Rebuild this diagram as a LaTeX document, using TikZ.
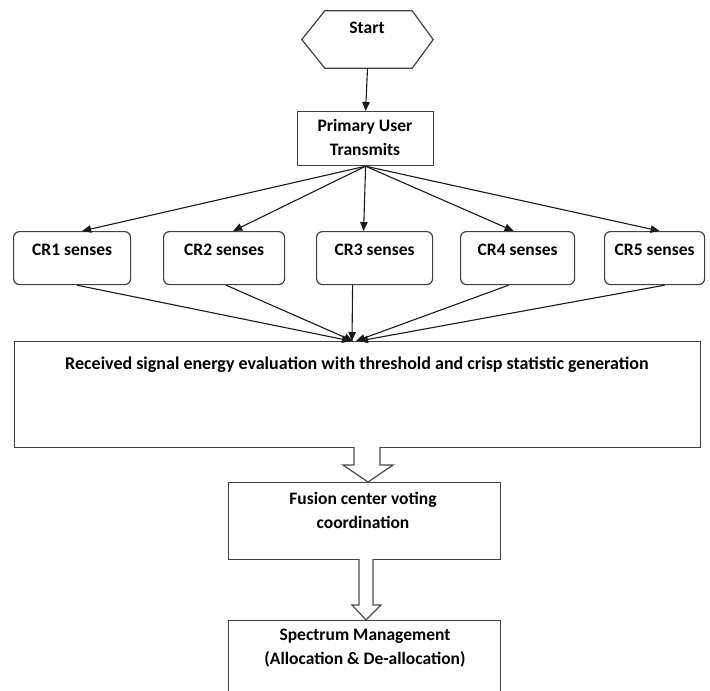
\documentclass[tikz,border=0pt]{standalone}
\usepackage{fontspec}
\setmainfont{Carlito}
\usetikzlibrary{calc,arrows.meta}
\begin{document}
\begin{tikzpicture}[x=1pt,y=-1pt,
  box/.style={draw=black!75, line width=1.2pt, inner sep=0pt, anchor=north west},
  crbox/.style={box, rounded corners=6pt, minimum height=53pt},
  lbl/.style={font=\bfseries\fontsize{17.5}{24}\selectfont, align=center, inner sep=0pt},
  arr/.style={draw=black!90, line width=1.1pt, -{Triangle[length=9pt,width=7.5pt]}},
  blk/.style={draw=black!70, line width=1.2pt, fill=white, line join=miter}]
\clip (0,0) rectangle (710,691);
\useasboundingbox (0,0) rectangle (710,691);
% Start hexagon
\node[inner sep=0pt, minimum width=131pt, minimum height=57pt] (start) at (367.5,39.5) {};
\draw[draw=black!75, line width=1.2pt] (start.west) -- ($(start.north west)+(23,0)$) -- ($(start.north east)+(-21,0)$) -- (start.east) -- ($(start.south east)+(-21,0)$) -- ($(start.south west)+(23,0)$) -- cycle;
\node[lbl] (starttext) at (367,28) {Start};
% Primary user
\node[box, minimum width=136pt, minimum height=54pt] (pu) at (297,111) {};
\node[lbl] (putext) at (365,137) {Primary User\\Transmits};
% CR boxes
\node[crbox, minimum width=117pt] (cr1) at (13,231) {};
\node[crbox, minimum width=121pt] (cr2) at (163,231) {};
\node[crbox, minimum width=116pt] (cr3) at (316,231) {};
\node[crbox, minimum width=114pt] (cr4) at (460,231) {};
\node[crbox, minimum width=100pt] (cr5) at (604,231) {};
\node[lbl] (t1) at (cr1.north) [yshift=-19pt] {CR1 senses};
\node[lbl] (t2) at (cr2.north) [yshift=-19pt] {CR2 senses};
\node[lbl] (t3) at (cr3.north) [yshift=-19pt] {CR3 senses};
\node[lbl] (t4) at (cr4.north) [yshift=-19pt] {CR4 senses};
\node[lbl] (t5) at (cr5.north) [yshift=-19pt] {CR5 senses};
% Received box
\node[box, minimum width=686pt, minimum height=106pt] (recv) at (14,341) {};
\node[lbl, font=\bfseries\fontsize{18}{24}\selectfont] (recvtext) at (357,365) {Received signal energy evaluation with threshold and crisp statistic generation};
% Fusion box
\node[box, minimum width=272pt, minimum height=77pt] (fus) at (228,482) {};
\node[lbl] (fustext) at (363,510) {Fusion center voting\\coordination};
% Spectrum box
\node[box, minimum width=272pt, minimum height=80pt] (spec) at (228,620) {};
\node[lbl] (spectext) at (365,648) {Spectrum Management\\(Allocation \& De-allocation)};
% arrows
\draw[arr] (start.south) -- (pu.north);
\draw[arr] (pu.south) -- ($(cr1.north)+(10,0)$);
\draw[arr] (pu.south) -- ($(cr2.north)+(9,0)$);
\draw[arr] (pu.south) -- ($(cr3.north)+(-11,0)$);
\draw[arr] (pu.south) -- ($(cr4.north)+(-4,0)$);
\draw[arr] (pu.south) -- ($(cr5.north)+(5,0)$);
\coordinate (conv) at (354,341);
\draw[arr] ($(cr1.south)+(5,0)$) -- ($(conv)+(-3,0)$);
\draw[arr] ($(cr2.south)+(2,0)$) -- ($(conv)+(-1,0)$);
\draw[arr] ($(cr3.south)+(-22,0)$) -- ($(conv)+(-2,0)$);
\draw[arr] ($(cr4.south)+(-9,0)$) -- ($(conv)+(2,0)$);
\draw[arr] ($(cr5.south)+(10,0)$) -- ($(conv)+(5,0)$);
% block arrows
\draw[blk] (354,447) -- (354,465) -- (343,465) -- (368,482) -- (393,465) -- (380,465) -- (380,447);
\draw[blk] (359,559) -- (359,605) -- (352,605) -- (366,620) -- (381,605) -- (373,605) -- (373,559);
\end{tikzpicture}
\end{document}
